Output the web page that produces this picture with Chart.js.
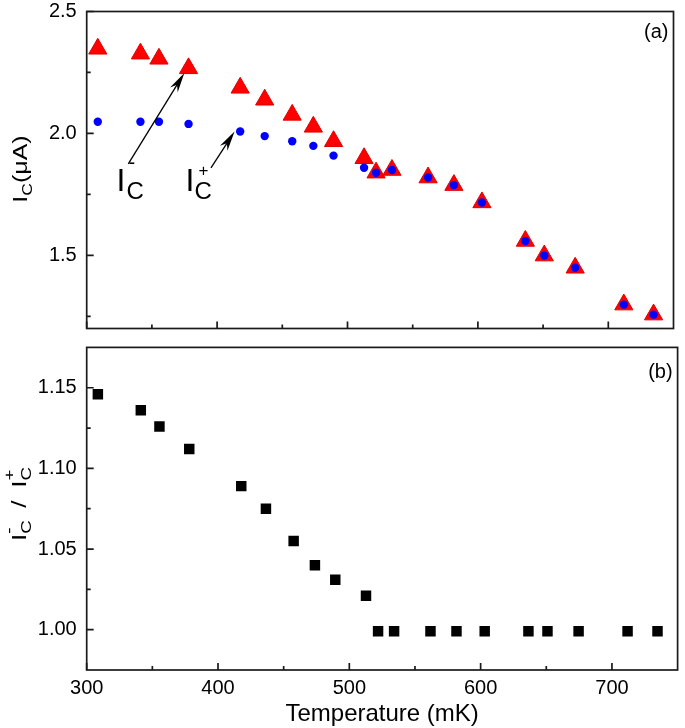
<!DOCTYPE html>
<html><head><meta charset="utf-8">
<script src="https://cdn.jsdelivr.net/npm/chart.js@4.4.0/dist/chart.umd.min.js"></script>
<style>
html,body{margin:0;padding:0;background:#fff;width:685px;height:728px;overflow:hidden}
#a{position:absolute;left:0;top:0;width:685px;height:340px}
#b{position:absolute;left:0;top:340px;width:685px;height:388px}
</style></head><body>
<div id="a"><canvas id="ca"></canvas></div>
<div id="b"><canvas id="cb"></canvas></div>
<script>
// ---- data ----
const temperatureMK = [308.5,341.2,355.4,378.1,417.7,436.5,457.6,473.8,489.3,512.7,521.9,534.1,561.8,581.6,603.1,636.4,650.9,674.6,711.9,734.7];
const icMinus = [2.347,2.327,2.306,2.267,2.187,2.138,2.076,2.027,1.968,1.898,1.839,1.850,1.819,1.788,1.717,1.559,1.499,1.449,1.298,1.257];
const icPlus  = [2.048,2.048,2.048,2.039,2.008,1.989,1.968,1.949,1.909,1.859,1.839,1.850,1.819,1.788,1.717,1.559,1.499,1.449,1.298,1.257];
const ratio   = [1.146,1.136,1.126,1.112,1.089,1.075,1.055,1.040,1.031,1.021,0.999,0.999,0.999,0.999,0.999,0.999,0.999,0.999,0.999,0.999];
const xRange = [300, 750];
const xMajorTicks = [300,400,500,600,700];
const xMinorTicks = [350,450,550,650];
const topYRange = [1.2, 2.5];
const topYMajor = [1.5, 2.0, 2.5];
const topYMinor = [1.25, 1.75, 2.25];
const botYRange = [0.975, 1.175];
const botYMajor = [1.00, 1.05, 1.10, 1.15];
const botYMinor = [1.025, 1.075, 1.125];
// annotation anchors in data units: [T, value]
const arrowMinus = [[331.9, 1.875], [374.9, 2.248]];
const arrowPlus  = [[395.3, 1.859], [413.4, 2.008]];
const labelMinusAt = [322.9, 1.763];
const labelPlusAt  = [375.8, 1.763];

const FONT = "'Liberation Sans', Arial, Helvetica, sans-serif";
const pts = (ys) => temperatureMK.map((t, i) => ({x: t, y: ys[i]}));

const framePlugin = {
  id: 'frame',
  afterDraw(chart, args, o) {
    const {ctx, chartArea: a} = chart;
    const x = chart.scales.x, y = chart.scales.y;
    ctx.save();
    ctx.strokeStyle = '#1a1a1a';
    ctx.lineWidth = 1.7;
    ctx.strokeRect(a.left, a.top, a.right - a.left, a.bottom - a.top);
    ctx.beginPath();
    xMajorTicks.forEach(v => { const p = x.getPixelForValue(v); ctx.moveTo(p, a.bottom); ctx.lineTo(p, a.bottom - 7); });
    xMinorTicks.forEach(v => { const p = x.getPixelForValue(v); ctx.moveTo(p, a.bottom); ctx.lineTo(p, a.bottom - 4); });
    o.yMajor.forEach(v => { const p = y.getPixelForValue(v); ctx.moveTo(a.left, p); ctx.lineTo(a.left + 7, p); });
    o.yMinor.forEach(v => { const p = y.getPixelForValue(v); ctx.moveTo(a.left, p); ctx.lineTo(a.left + 4, p); });
    ctx.stroke();
    // panel letter
    ctx.fillStyle = '#000';
    ctx.font = '20px ' + FONT;
    ctx.textAlign = 'right';
    ctx.textBaseline = 'middle';
    ctx.fillText(o.letter, a.right - 5, a.top + o.letterDy);
    // y title
    ctx.save();
    ctx.translate(o.titleX, o.titleY);
    ctx.rotate(-Math.PI / 2);
    ctx.scale(1.25, 1);
    ctx.textAlign = 'left';
    ctx.textBaseline = 'alphabetic';
    const parts = o.titleParts;
    let w = 0;
    const widths = parts.map(p => { ctx.font = p.size + 'px ' + FONT; return ctx.measureText(p.t).width; });
    parts.forEach((p, i) => { if (!p.stack) w += widths[i] + (p.gap || 0); });
    let cx = -w / 2, lastX = cx;
    parts.forEach((p, i) => {
      ctx.font = p.size + 'px ' + FONT;
      if (p.stack) { ctx.fillText(p.t, lastX, p.dy); return; }
      cx += (p.gap || 0);
      ctx.fillText(p.t, cx, p.dy);
      lastX = cx;
      cx += widths[i];
    });
    ctx.restore();
    ctx.restore();
  }
};

function drawArrow(ctx, x1, y1, x2, y2) {
  const dx = x2 - x1, dy = y2 - y1, len = Math.hypot(dx, dy);
  const ux = dx / len, uy = dy / len, nx = -uy, ny = ux;
  const L = 20, W = 4.5;
  ctx.beginPath();
  ctx.moveTo(x1, y1);
  ctx.lineTo(x2 - ux * L * 0.6, y2 - uy * L * 0.6);
  ctx.stroke();
  ctx.beginPath();
  ctx.moveTo(x2, y2);
  ctx.lineTo(x2 - ux * L + nx * W, y2 - uy * L + ny * W);
  ctx.lineTo(x2 - ux * L * 0.7, y2 - uy * L * 0.7);
  ctx.lineTo(x2 - ux * L - nx * W, y2 - uy * L - ny * W);
  ctx.closePath();
  ctx.fill();
}

const annotPlugin = {
  id: 'annot',
  afterDraw(chart) {
    const {ctx} = chart;
    const x = chart.scales.x, y = chart.scales.y;
    const P = (d) => [x.getPixelForValue(d[0]), y.getPixelForValue(d[1])];
    ctx.save();
    ctx.strokeStyle = '#000'; ctx.fillStyle = '#000'; ctx.lineWidth = 1.3;
    [arrowMinus, arrowPlus].forEach(a => { const t = P(a[0]), h = P(a[1]); drawArrow(ctx, t[0], t[1], h[0], h[1]); });
    ctx.textAlign = 'left'; ctx.textBaseline = 'alphabetic';
    const lab = (at, sup, supDx, supDy, supSize, subDx) => {
      const p = P(at);
      ctx.font = '32px ' + FONT; ctx.fillText('I', p[0], p[1]);
      ctx.font = '24px ' + FONT; ctx.fillText('C', p[0] + subDx, p[1] + 8);
      ctx.font = supSize + 'px ' + FONT; ctx.fillText(sup, p[0] + supDx, p[1] + supDy);
    };
    lab(labelMinusAt, '-', 12, -22, 20, 10);
    lab(labelPlusAt, '+', 13, -15, 17, 9);
    ctx.restore();
  }
};

const common = (yr, yMajor, yDigits, xDisplay) => ({
  responsive: true, maintainAspectRatio: false, animation: false,
  events: [],
  plugins: {legend: {display: false}, tooltip: {enabled: false}},
  scales: {
    x: {
      type: 'linear', min: xRange[0], max: xRange[1], display: xDisplay,
      grid: {display: false, drawTicks: false}, border: {display: false},
      afterBuildTicks: s => { s.ticks = xMajorTicks.map(v => ({value: v})); },
      afterFit: s => { s.height = xDisplay ? 58 : 0; s.paddingLeft = 0; s.paddingRight = 0; },
      ticks: {color: '#000', font: {family: FONT, size: 20}, padding: 6, maxRotation: 0, autoSkip: false, callback: v => String(v)},
      title: {display: true, text: 'Temperature (mK)', color: '#000', font: {family: FONT, size: 24}, padding: {top: 0, bottom: -1}}
    },
    y: {
      type: 'linear', min: yr[0], max: yr[1],
      grid: {display: false, drawTicks: false}, border: {display: false},
      afterBuildTicks: s => { s.ticks = yMajor.map(v => ({value: v})); },
      afterFit: s => { s.width = 86.7; s.paddingTop = 0; s.paddingBottom = 0; },
      ticks: {color: '#000', font: {family: FONT, size: 20}, padding: 10, autoSkip: false, callback: v => Number(v).toFixed(yDigits)}
    }
  }
});

const optA = common(topYRange, topYMajor, 1, false);
optA.layout = {padding: {left: 0, right: 2, top: 9.3, bottom: 6.7}};
optA.plugins.frame = {yMajor: topYMajor, yMinor: topYMinor, letter: '(a)', letterDy: 21,
  titleX: 27, titleY: 169,
  titleParts: [{t: 'I', size: 20, dy: 0}, {t: 'C', size: 14, dy: 5}, {t: '(μA)', size: 20, dy: 0}]};

new Chart(document.getElementById('ca'), {
  type: 'scatter',
  data: {datasets: [
    {data: pts(icPlus), pointStyle: 'circle', pointRadius: 4.2, backgroundColor: '#0000ff', borderColor: '#0000ff', borderWidth: 0, order: 1},
    {data: pts(icMinus), pointStyle: 'triangle', pointRadius: 10.5, backgroundColor: '#ff0000', borderColor: '#e00000', borderWidth: 1, order: 2}
  ]},
  options: optA,
  plugins: [framePlugin, annotPlugin]
});

const optB = common(botYRange, botYMajor, 2, true);
optB.layout = {padding: {left: 0, right: 2, top: 3.3, bottom: 0}};
optB.plugins.frame = {yMajor: botYMajor, yMinor: botYMinor, letter: '(b)', letterDy: 25,
  titleX: 26, titleY: 164,
  titleParts: [{t: 'I', size: 21, dy: 0}, {t: 'C', size: 15, dy: 5}, {t: '-', size: 15, dy: -12, stack: true},
    {t: '/', size: 21, dy: 0, gap: 10}, {t: 'I', size: 21, dy: 0, gap: 10}, {t: 'C', size: 15, dy: 5}, {t: '+', size: 15, dy: -12, stack: true}]};

new Chart(document.getElementById('cb'), {
  type: 'scatter',
  data: {datasets: [
    {data: pts(ratio), pointStyle: 'rect', pointRadius: 7.4, backgroundColor: '#000', borderColor: '#000', borderWidth: 0}
  ]},
  options: optB,
  plugins: [framePlugin]
});
</script>
</body></html>
